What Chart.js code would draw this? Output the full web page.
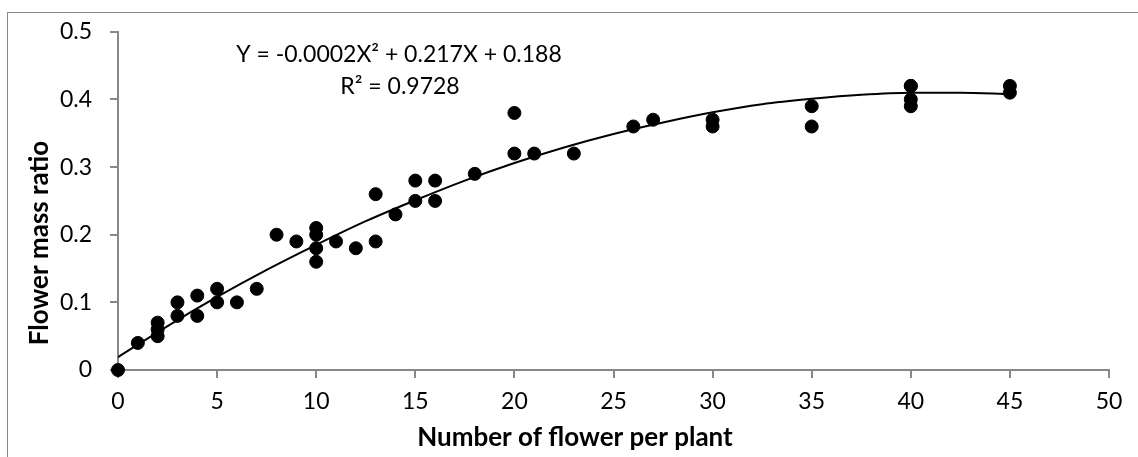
<!DOCTYPE html>
<html>
<head>
<meta charset="utf-8">
<script src="https://cdn.jsdelivr.net/npm/chart.js@4/dist/chart.umd.min.js"></script>
<style>
  html, body { margin: 0; padding: 0; background: #fff; }
  #wrap { width: 1138px; height: 457px; }
</style>
</head>
<body>
<div id="wrap"><canvas id="chart" width="1138" height="457"></canvas></div>
<script>
// observed points (flowers per plant, flower mass ratio)
const flowerCount = [0, 1, 2, 2, 2, 3, 3, 4, 4, 5, 5, 6, 7, 8, 9,
    10, 10, 10, 10, 11, 12, 13, 13, 14, 15, 15, 16, 16, 18,
    20, 20, 21, 23, 26, 27, 30, 30, 35, 35, 40, 40, 40, 40, 45, 45];
const massRatio = [0, 0.04, 0.07, 0.06, 0.05, 0.10, 0.08, 0.11, 0.08, 0.12, 0.10, 0.10, 0.12, 0.20, 0.19,
    0.21, 0.20, 0.18, 0.16, 0.19, 0.18, 0.26, 0.19, 0.23, 0.28, 0.25, 0.28, 0.25, 0.29,
    0.38, 0.32, 0.32, 0.32, 0.36, 0.37, 0.37, 0.36, 0.39, 0.36, 0.42, 0.42, 0.40, 0.39, 0.42, 0.41];

// trend curve
const trendX = [0, 2.5, 5, 7.5, 10, 12.5, 15, 17.5, 20, 22.5, 25, 27.5, 30, 32.5, 35, 37.5, 40, 42.5, 45];
const trendY = [0.019, 0.065, 0.108, 0.148, 0.185, 0.220, 0.251, 0.280, 0.306, 0.329, 0.349, 0.366,
    0.381, 0.393, 0.401, 0.407, 0.410, 0.410, 0.408];

const xTitle = 'Number of flower per plant';
const yTitle = 'Flower mass ratio';
const equationText = 'Y = -0.0002X² + 0.217X + 0.188';
const r2Text = 'R² = 0.9728';

const FONT = 'Lato, "Open Sans", sans-serif';
const AXIS_GREY = '#888888';

const overlay = {
    id: 'overlay',
    afterDraw(chart) {
        const c = chart.ctx;
        c.save();
        // outer frame (cut off at right and bottom like the original)
        c.strokeStyle = AXIS_GREY;
        c.lineWidth = 1;
        c.strokeRect(7.5, 12.5, 1200, 500);

        c.fillStyle = '#000';
        c.textAlign = 'center';
        c.textBaseline = 'middle';
        c.font = '23px ' + FONT;
        c.fillText(equationText, 399, 55);
        c.fillText(r2Text, 400, 87);

        c.font = 'bold 26px ' + FONT;
        c.textBaseline = 'alphabetic';
        c.fillText(xTitle, 575, 446);

        c.translate(48, 243);
        c.rotate(-Math.PI / 2);
        c.fillText(yTitle, 0, 0);
        c.restore();
    }
};

new Chart(document.getElementById('chart'), {
    type: 'scatter',
    data: {
        datasets: [{
            label: 'Observed',
            data: flowerCount.map((x, i) => ({ x: x, y: massRatio[i] })),
            backgroundColor: '#000',
            borderColor: '#000',
            pointRadius: 6.5,
            pointHoverRadius: 6.5,
            clip: false,
            order: 2
        }, {
            label: 'Trend',
            type: 'line',
            data: trendX.map((x, i) => ({ x: x, y: trendY[i] })),
            borderColor: '#000',
            borderWidth: 2,
            pointRadius: 0,
            fill: false,
            cubicInterpolationMode: 'monotone',
            order: 1
        }]
    },
    options: {
        responsive: false,
        animation: false,
        devicePixelRatio: 1,
        layout: { padding: { top: 29, right: 29, left: 0, bottom: 0 } },
        plugins: {
            legend: { display: false },
            tooltip: { enabled: false }
        },
        scales: {
            x: {
                type: 'linear',
                min: 0,
                max: 50,
                afterFit: scale => { scale.height = 87; },
                ticks: { stepSize: 5, color: '#000', padding: 10, font: { family: FONT, size: 23 } },
                grid: { drawOnChartArea: false, drawTicks: true, tickLength: 8, color: AXIS_GREY, lineWidth: 2 },
                border: { color: AXIS_GREY, width: 2 }
            },
            y: {
                min: 0,
                max: 0.5,
                afterFit: scale => { scale.width = 118; },
                ticks: { stepSize: 0.1, color: '#000', padding: 18, font: { family: FONT, size: 23 } },
                grid: { drawOnChartArea: false, drawTicks: true, tickLength: 8, color: AXIS_GREY, lineWidth: 2 },
                border: { color: AXIS_GREY, width: 2 }
            }
        }
    },
    plugins: [overlay]
});
</script>
</body>
</html>
